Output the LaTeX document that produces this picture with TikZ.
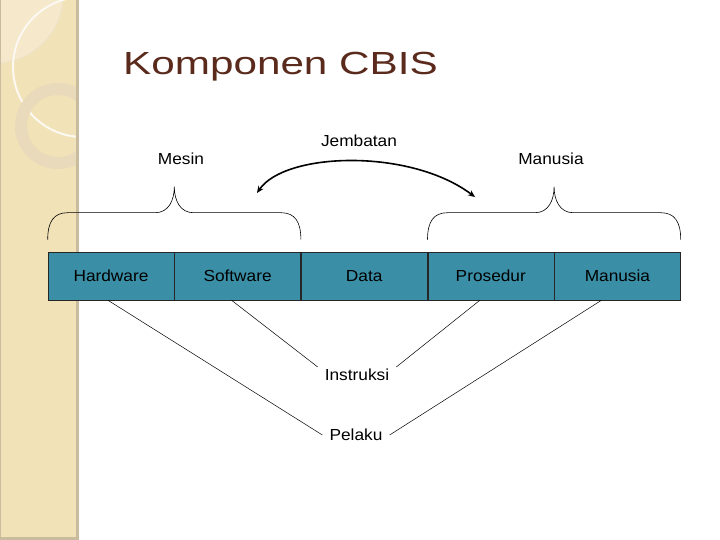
\documentclass[tikz,border=0pt]{standalone}
\usepackage{fontspec}
\setmainfont{Liberation Sans}
\newfontfamily\titlefont[FakeStretch=1.32]{Liberation Sans}
\newfontfamily\bodyfont[FakeStretch=1.08]{Liberation Sans}
\usetikzlibrary{arrows.meta,positioning}
\definecolor{cbisteal}{HTML}{3A8EA6}
\definecolor{cbisbrown}{HTML}{5A2A1C}
\definecolor{bandbeige}{HTML}{F2E2B7}
\definecolor{bandedge}{HTML}{C9BC9E}
\definecolor{bandlight}{HTML}{F5E8CB}
\definecolor{bandring}{HTML}{E8DABA}

\begin{document}
\begin{tikzpicture}[
  x=1pt, y=-1pt,
  font=\bodyfont\fontsize{16}{19}\selectfont,
  >={Stealth[length=7pt, width=6pt]},
  component/.style={draw=black!85, fill=cbisteal, line width=0.6pt,
    minimum width=126pt, minimum height=48pt, inner sep=0pt},
  caption/.style={inner sep=2pt},
  target/.style={inner xsep=7pt, inner ysep=2pt},
  link/.style={draw=black, line width=0.5pt},
  bracket/.style={draw=black, line width=0.6pt},
  bridge/.style={<->, line width=1.6pt}
]
  \useasboundingbox (0,0) rectangle (720,540);

  % decorative side band
  \fill[bandbeige] (0,0) rectangle (76,540);
  \begin{scope}
    \clip (0,0) rectangle (76,540);
    \fill[bandlight, draw=bandedge!45, line width=0.4pt] (-5,-5) circle[radius=68];
    \draw[white!75!bandlight, line width=2pt] (83,67) circle[radius=70];
    \fill[bandring, even odd rule] (58,126) circle[radius=43] (58,126) circle[radius=31];
  \end{scope}
  \fill[bandedge] (76,0) rectangle (79,540);
  \fill[bandedge] (0,537) rectangle (79,540);
  \draw[bandedge, line width=0.8pt] (0.4,0) -- (0.4,540);

  \node[anchor=base west, inner sep=0pt, text=cbisbrown,
    font=\titlefont\fontsize{32}{38}\selectfont] (title) at (123,75) {Komponen CBIS};

  % component row
  \node[component] (hardware) at (111,276) {Hardware};
  \node[component, right=0pt of hardware] (software) {Software};
  \node[component, right=0pt of software] (data) {Data};
  \node[component, right=0pt of data] (prosedur) {Prosedur};
  \node[component, right=0pt of prosedur] (manusia) {Manusia};

  \node[caption] (mesin) at (181,159) {Mesin};
  \node[caption] (jembatan) at (359,141) {Jembatan};
  \node[caption] (manusialabel) at (551,159) {Manusia};
  \node[target] (instruksi) at (357,375) {Instruksi};
  \node[target] (pelaku) at (356,435) {Pelaku};

  % braces over the groups
  \foreach \lft/\mid/\rgt in {hardware/software/software, prosedur/manusia/manusia} {
    \draw[bracket] ([yshift=12pt]\lft.north west)
      .. controls +(0,-18) and +(-14,0) .. ([xshift=20pt, yshift=39pt]\lft.north west)
      -- ([xshift=-19pt, yshift=39pt]\mid.north west)
      .. controls +(13,0) and +(0,14) .. ([yshift=65pt]\mid.north west)
      .. controls +(0,14) and +(-13,0) .. ([xshift=19pt, yshift=39pt]\mid.north west)
      -- ([xshift=-20pt, yshift=39pt]\rgt.north east)
      .. controls +(14,0) and +(0,-18) .. ([yshift=12pt]\rgt.north east);
  }

  % bridge arrow
  \coordinate (bridgeL) at (257,193);
  \coordinate (bridgeR) at (475,197);
  \draw[bridge] (bridgeL) .. controls (285,152) and (410,148) .. (bridgeR);

  % lines to the roles
  \draw[link] ([xshift=-3pt]hardware.south) -- (pelaku.west);
  \draw[link] ([xshift=-6pt]software.south) -- (instruksi.north west);
  \draw[link] ([xshift=-11pt]prosedur.south) -- (instruksi.north east);
  \draw[link] ([xshift=-16pt]manusia.south) -- (pelaku.east);
\end{tikzpicture}
\end{document}
